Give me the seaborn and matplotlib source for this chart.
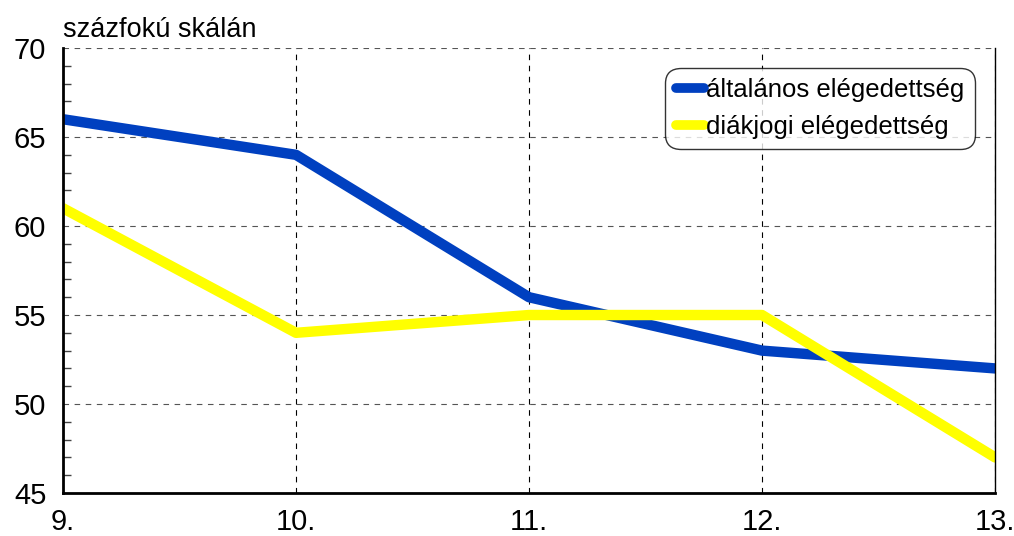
import matplotlib
matplotlib.use("Agg")
import matplotlib.pyplot as plt
import pandas as pd
import seaborn as sns
from matplotlib.ticker import MultipleLocator

# évfolyamok és elégedettség (százfokú skálán)
grades = [9, 10, 11, 12, 13]
grade_labels = ["9.", "10.", "11.", "12.", "13."]
general = [66, 64, 56, 53, 52]
student_rights = [61, 54, 55, 55, 47]
series_names = ["általános elégedettség", "diákjogi elégedettség"]
colors = ["#0040C0", "#FFFF00"]

df = pd.DataFrame({
    "grade": grades * 2,
    "value": general + student_rights,
    "series": [series_names[0]] * len(grades) + [series_names[1]] * len(grades),
})

sns.set_style("white")
plt.rcParams["font.family"] = ["Liberation Sans", "DejaVu Sans"]
plt.rcParams["text.color"] = "black"
plt.rcParams["xtick.color"] = "black"
plt.rcParams["ytick.color"] = "black"

fig = plt.figure(figsize=(10.14, 5.36), dpi=100)
ax = fig.add_axes([0.0621, 0.0802, 0.9192, 0.8302])

sns.lineplot(data=df, x="grade", y="value", hue="series", palette=colors,
             linewidth=7.5, ax=ax, legend=True)
for ln in ax.lines:
    ln.set_solid_capstyle("round")
    ln.set_solid_joinstyle("round")

ax.set_xlim(9, 13)
ax.set_ylim(45, 70)
ax.set_xticks(grades)
ax.set_xticklabels(grade_labels)
ax.set_yticks([45, 50, 55, 60, 65, 70])
ax.yaxis.set_minor_locator(MultipleLocator(1))
ax.tick_params(axis="both", which="major", labelsize=21, length=0, labelcolor="black")
ax.tick_params(axis="x", which="major", pad=11)
ax.tick_params(axis="y", which="major", pad=12)
ax.tick_params(axis="y", which="minor", direction="in", length=6, width=1, color="#444444", left=True)
ax.set_xlabel("")
ax.set_ylabel("")

ax.xaxis.grid(True, color="black", linestyle=(0, (5, 5)), linewidth=0.8)
ax.yaxis.grid(True, color="#555555", linestyle=(0, (5, 5)), linewidth=0.8)
ax.set_axisbelow(True)
for sp in ax.spines.values():
    sp.set_visible(True)
    sp.set_color("black")
    sp.set_linewidth(1)
ax.spines["left"].set_linewidth(2)
ax.spines["bottom"].set_linewidth(2)
ax.spines["top"].set_visible(False)

ax.set_title("százfokú skálán", loc="left", fontsize=19.5, pad=8, color="black")

leg = ax.legend(loc="upper right", bbox_to_anchor=(0.9785, 0.955), fontsize=18.5,
                frameon=True, fancybox=True, edgecolor="black", handlelength=1.1,
                handletextpad=0.1, borderpad=0.4, labelspacing=0.5, borderaxespad=0)
frame = leg.get_frame()
frame.set_linewidth(1)
frame.set_boxstyle("round", pad=0, rounding_size=0.6)
for h in leg.get_lines():
    h.set_linewidth(7)
    h.set_solid_capstyle("round")

fig.savefig("out.png", dpi=100)
